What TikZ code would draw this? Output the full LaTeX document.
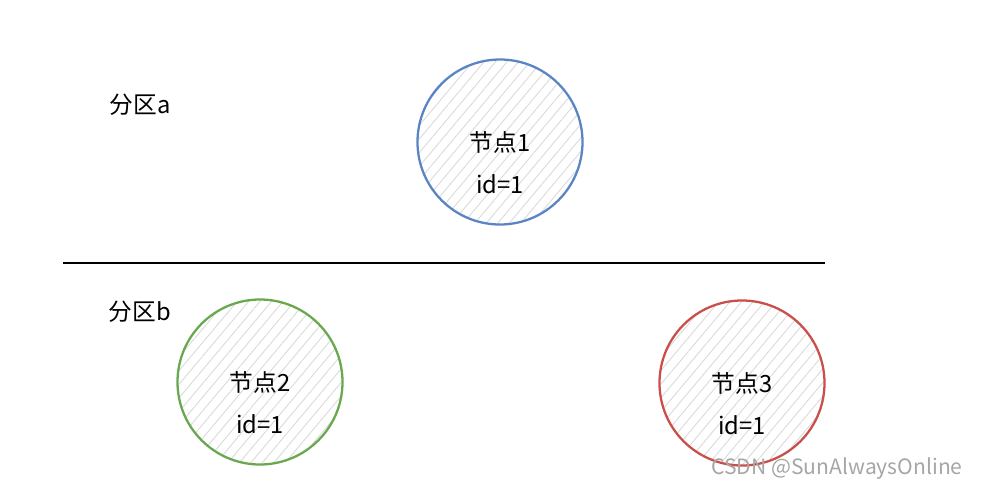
\documentclass[tikz,border=0pt]{standalone}
\usepackage{fontspec}
\setmainfont{Noto Sans CJK SC}
\usetikzlibrary{patterns.meta,positioning}
\definecolor{nodeblue}{HTML}{5B84C4}
\definecolor{nodegreen}{HTML}{6AA84F}
\definecolor{nodered}{HTML}{C9504A}
\begin{document}
\begin{tikzpicture}[
    ring/.style={circle,minimum size=3.3cm,line width=1.3pt,
      pattern={Lines[angle=50,distance=5pt,line width=0.5pt]},pattern color=gray!30},
    label text/.style={font=\fontsize{13.5}{16}\selectfont,inner sep=1pt}]
    \useasboundingbox (0,0) rectangle (19.88,-10.04);

    \node at (2.8,-2.1) [label text] (parta) {分区a};
    \node at (10,-2.84) [ring,draw=nodeblue] (n1) {};
    \node at (n1.center) [label text] (n1name) {节点1};
    \node [label text,below=0.84cm of n1name.center,anchor=center] (n1id) {id=1};

    \draw[line width=0.8pt] (1.26,-5.26) -- (16.5,-5.26);

    \node at (2.8,-6.24) [label text] (partb) {分区b};
    \node at (5.2,-7.64) [ring,draw=nodegreen] (n2) {};
    \node at (n2.center) [label text] (n2name) {节点2};
    \node [label text,below=0.84cm of n2name.center,anchor=center] (n2id) {id=1};
    \node at (14.84,-7.66) [ring,draw=nodered] (n3) {};
    \node at (n3.center) [label text] (n3name) {节点3};
    \node [label text,below=0.84cm of n3name.center,anchor=center] (n3id) {id=1};

    \node at (16.74,-9.38) [text=gray!70,font=\fontsize{12}{14}\selectfont] (mark) {CSDN @SunAlwaysOnline};
\end{tikzpicture}
\end{document}
